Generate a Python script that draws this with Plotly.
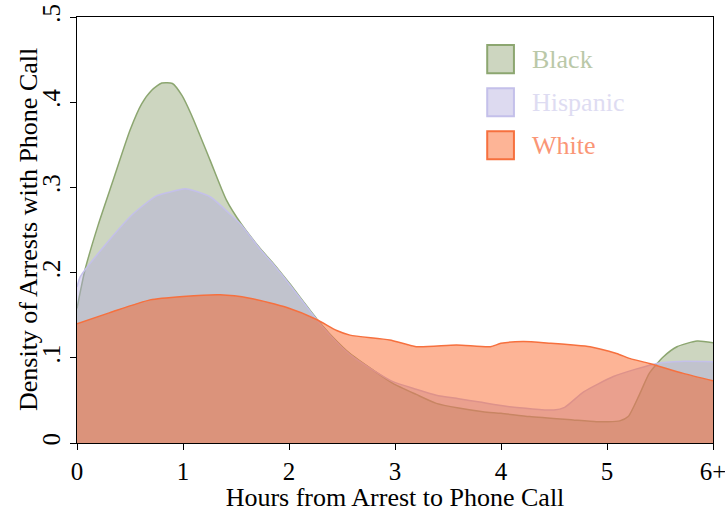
import plotly.graph_objects as go

# Kernel density of hours from arrest to phone call, by race
black_x = [0, 0.075, 0.2, 0.34, 0.5, 0.61, 0.705, 0.8, 0.9, 0.99, 1.08, 1.255, 1.41, 1.55,
           1.73, 1.85, 2.0, 2.26, 2.4, 2.575, 2.8, 2.98, 3.2, 3.39, 3.6, 3.83, 4.0, 4.27,
           4.68, 4.9, 5.0, 5.12, 5.2, 5.31, 5.4, 5.53, 5.66, 5.85, 6.0]
black_y = [0.158, 0.203, 0.256, 0.308, 0.367, 0.398, 0.414, 0.4225, 0.422, 0.408, 0.385, 0.332,
           0.285, 0.257, 0.228, 0.211, 0.188, 0.146, 0.126, 0.105, 0.085, 0.07, 0.057, 0.0465,
           0.041, 0.0367, 0.0348, 0.031, 0.027, 0.025, 0.025, 0.026, 0.031, 0.058, 0.082, 0.101,
           0.113, 0.1196, 0.1176]

hisp_x = [0, 0.03, 0.25, 0.53, 0.75, 0.88, 1.02, 1.255, 1.475, 1.55, 1.73, 1.85, 2.0, 2.26,
          2.4, 2.575, 2.8, 2.98, 3.2, 3.39, 3.6, 3.8, 4.08, 4.5, 4.6, 4.78, 5.06, 5.28, 5.47,
          5.69, 6.0]
hisp_y = [0.183, 0.195, 0.23, 0.269, 0.29, 0.2946, 0.2985, 0.289, 0.265, 0.256, 0.227, 0.21,
          0.187, 0.145, 0.125, 0.104, 0.085, 0.072, 0.063, 0.056, 0.052, 0.048, 0.0426, 0.0387,
          0.0418, 0.06, 0.078, 0.087, 0.0934, 0.0958, 0.0953]

white_x = [0, 0.31, 0.69, 1.0, 1.35, 1.63, 1.98, 2.26, 2.45, 2.575, 2.95, 3.2, 3.58, 3.9, 4.0,
           4.21, 4.47, 4.68, 4.84, 5.09, 5.22, 5.4, 5.72, 6.0]
white_y = [0.14, 0.153, 0.168, 0.172, 0.174, 0.170, 0.159, 0.145, 0.132, 0.1266, 0.121, 0.113,
           0.115, 0.113, 0.117, 0.119, 0.117, 0.115, 0.113, 0.105, 0.099, 0.0934, 0.0817, 0.073]

x_ticks = [0, 1, 2, 3, 4, 5, 6]
x_tick_labels = ["0", "1", "2", "3", "4", "5", "6+"]
y_ticks = [0, 0.1, 0.2, 0.3, 0.4, 0.5]
y_tick_labels = ["0", ".1", ".2", ".3", ".4", ".5"]

series = [
    ("Black", black_x, black_y, "rgb(140,166,112)", "rgba(155,173,129,0.5)", "rgb(186,200,168)"),
    ("Hispanic", hisp_x, hisp_y, "rgb(196,192,234)", "rgba(180,173,222,0.45)", "rgb(222,220,242)"),
    ("White", white_x, white_y, "rgb(246,112,62)", "rgba(250,92,27,0.46)", "rgb(250,150,118)"),
]

FONT = "Liberation Serif, Times New Roman, serif"

fig = go.Figure()
for name, xs, ys, line_c, fill_c, _ in series:
    fig.add_trace(go.Scatter(
        x=xs, y=ys, name=name, mode="lines",
        line=dict(color=line_c, width=1.5, shape="spline", smoothing=0.6),
        fill="tozeroy", fillcolor=fill_c, showlegend=False,
    ))

# Legend drawn as large swatches with coloured labels
box_x0, box_x1 = 0.645, 0.687
label_x = 0.712
row_centers = [0.901, 0.800, 0.699]
half_h = 0.033
for (name, _, _, line_c, fill_c, text_c), yc in zip(series, row_centers):
    fig.add_shape(type="rect", xref="paper", yref="paper",
                  x0=box_x0, x1=box_x1, y0=yc - half_h, y1=yc + half_h,
                  line=dict(color=line_c, width=2), fillcolor=fill_c)
    fig.add_annotation(xref="paper", yref="paper", x=label_x, y=yc, text=name,
                       showarrow=False, xanchor="left", yanchor="middle",
                       font=dict(family=FONT, size=26, color=text_c))

# Vertical axis title
fig.add_annotation(xref="paper", yref="paper", x=-0.077, y=0.5, xanchor="center",
                   yanchor="middle", textangle=-90, showarrow=False,
                   text="Density of Arrests with Phone Call",
                   font=dict(family=FONT, size=26, color="black"))

axis_common = dict(showgrid=False, zeroline=False, showline=True, linecolor="black",
                   linewidth=1.3, mirror=True, ticks="outside", ticklen=6,
                   tickcolor="black", tickwidth=1.3, ticklabeloverflow="allow",
                   tickfont=dict(family=FONT, size=25, color="black"))

fig.update_xaxes(range=[0, 6], tickvals=x_ticks, ticktext=x_tick_labels,
                 title=dict(text="Hours from Arrest to Phone Call",
                            font=dict(family=FONT, size=26, color="black"), standoff=0),
                 **axis_common)
fig.update_yaxes(range=[0, 0.5], tickvals=y_ticks, ticktext=y_tick_labels, tickangle=-90,
                 **axis_common)

fig.update_layout(
    width=725, height=512,
    margin=dict(l=77, r=12, t=17, b=69, autoexpand=False),
    paper_bgcolor="white", plot_bgcolor="white",
    font=dict(family=FONT),
)

fig.write_html("out.html")
